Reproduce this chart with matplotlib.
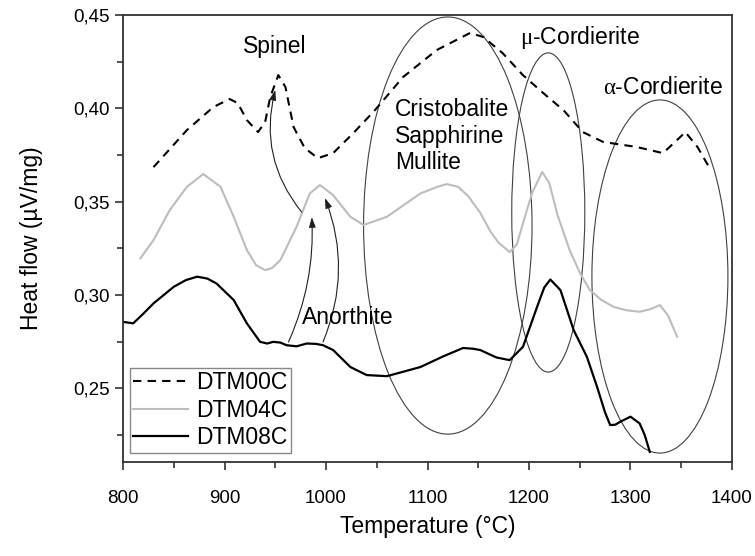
import numpy as np
import matplotlib
matplotlib.use("Agg")
import matplotlib.pyplot as plt
from matplotlib.patches import Ellipse
from matplotlib.ticker import MultipleLocator, FuncFormatter

plt.rcParams['font.family'] = ['Liberation Sans', 'DejaVu Sans']
plt.rcParams['mathtext.fontset'] = 'custom'
plt.rcParams['mathtext.rm'] = 'Liberation Serif'

# DTM00C (dashed)
t00 = [830, 863, 889, 905, 913, 922, 933, 940, 945, 953, 960, 968, 979, 992, 1007,
       1027, 1047, 1076, 1109, 1142, 1155, 1174, 1194, 1214, 1234, 1253, 1273, 1306,
       1332, 1349, 1354, 1366, 1378]
h00 = [0.3685, 0.3884, 0.4007, 0.4050, 0.4028, 0.3937, 0.3873, 0.3927, 0.4060, 0.4178,
       0.4114, 0.3900, 0.3787, 0.3733, 0.3760, 0.3868, 0.3983, 0.4168, 0.4312, 0.4404,
       0.4382, 0.4296, 0.4178, 0.4082, 0.3990, 0.3873, 0.3820, 0.3793, 0.3760, 0.3846,
       0.3873, 0.3793, 0.3680]

# DTM04C (light grey)
t04 = [817, 830, 846, 863, 879, 896, 909, 922, 931, 940, 947, 955, 971, 984, 994,
       1007, 1024, 1037, 1060, 1093, 1110, 1119, 1130, 1140, 1152, 1162, 1170, 1181,
       1188, 1196, 1203, 1213, 1220, 1228, 1240, 1250, 1260, 1271, 1283, 1296, 1309,
       1320, 1329, 1337, 1346]
h04 = [0.3196, 0.3294, 0.3455, 0.3580, 0.3648, 0.3580, 0.3419, 0.3241, 0.3160, 0.3133,
       0.3145, 0.3187, 0.3366, 0.3544, 0.3589, 0.3535, 0.3419, 0.3375, 0.3419, 0.3544,
       0.3580, 0.3594, 0.3580, 0.3530, 0.3440, 0.3340, 0.3280, 0.3230, 0.3270, 0.3420,
       0.3546, 0.3659, 0.3600, 0.3430, 0.3241, 0.3120, 0.3026, 0.2975, 0.2937, 0.2918,
       0.2910, 0.2925, 0.2946, 0.2890, 0.2776]

# DTM08C (black)
t08 = [800, 810, 820, 830, 850, 862, 873, 883, 892, 909, 922, 935, 942, 948, 955, 961,
       971, 981, 990, 997, 1007, 1024, 1040, 1060, 1093, 1115, 1135, 1145, 1152, 1168,
       1181, 1194, 1208, 1215, 1221, 1231, 1244, 1257, 1267, 1275, 1280, 1285, 1290,
       1300, 1309, 1314, 1319]
h08 = [0.2856, 0.2848, 0.2900, 0.2955, 0.3044, 0.3080, 0.3098, 0.3088, 0.3062, 0.2973,
       0.2848, 0.2749, 0.2740, 0.2749, 0.2745, 0.2731, 0.2725, 0.2740, 0.2738, 0.2731,
       0.2705, 0.2614, 0.2571, 0.2565, 0.2614, 0.2670, 0.2716, 0.2712, 0.2705, 0.2665,
       0.2651, 0.2722, 0.2937, 0.3040, 0.3083, 0.3026, 0.2812, 0.2669, 0.2509, 0.2370,
       0.2303, 0.2305, 0.2321, 0.2348, 0.2312, 0.2250, 0.2160]

# phase regions: (center T, center y, width, height)
ellipses = [(1120, 0.3372, 166, 0.2235),
            (1219, 0.3442, 72, 0.171),
            (1329, 0.3099, 134, 0.1892)]

# arrows: (tail, head, curvature)
arrows = [((976, 0.3444), (950, 0.4098), -0.25),
          ((963, 0.2748), (986, 0.3417), 0.12),
          ((997, 0.2748), (999, 0.3519), 0.2)]

fig = plt.figure(figsize=(7.55, 5.56), dpi=100)
ax = fig.add_axes([0.163, 0.169, 0.8065, 0.804])

ax.plot(t00, h00, color='black', lw=1.5, dashes=(4, 3), label='DTM00C')
ax.plot(t04, h04, color='#bdbdbd', lw=1.5, label='DTM04C')
ax.plot(t08, h08, color='black', lw=1.6, label='DTM08C')

for cx, cy, w, h in ellipses:
    ax.add_patch(Ellipse((cx, cy), w, h, fill=False, ec='#404040', lw=0.8))

for tail, head, rad in arrows:
    ax.annotate('', xy=head, xytext=tail,
                arrowprops=dict(arrowstyle='-|>,head_length=0.6,head_width=0.2',
                                color='#202020', lw=0.8,
                                connectionstyle=f'arc3,rad={rad}',
                                shrinkA=0, shrinkB=0))

fs = 16.5
ax.text(949, 0.4329, 'Spinel', fontsize=fs, ha='center', va='center')
ax.text(976, 0.2882, 'Anorthite', fontsize=fs, ha='left', va='center')
ax.text(1068, 0.4055, 'Cristobalite\nSapphirine\nMullite', fontsize=fs,
        ha='left', va='top', linespacing=1.2)
ax.text(1191, 0.4382, r'$\mathrm{\mu}$-Cordierite', fontsize=fs, ha='left', va='center')
ax.text(1273, 0.4109, r'$\mathrm{\alpha}$-Cordierite', fontsize=fs, ha='left', va='center')

ax.set_xlim(800, 1400)
ax.set_ylim(0.2105, 0.45)
ax.xaxis.set_major_locator(MultipleLocator(100))
ax.xaxis.set_minor_locator(MultipleLocator(50))
ax.yaxis.set_major_locator(MultipleLocator(0.05))
ax.yaxis.set_minor_locator(MultipleLocator(0.025))
ax.yaxis.set_major_formatter(FuncFormatter(lambda v, p: f'{v:.2f}'.replace('.', ',')))
ax.tick_params(which='both', direction='out', width=1.2, colors='#333333',
               labelcolor='black', labelsize=13.5)
ax.tick_params(which='major', length=6)
ax.tick_params(which='minor', length=4)
ax.tick_params(axis='x', pad=14)
for s in ax.spines.values():
    s.set_linewidth(1.3)
    s.set_color('#333333')

ax.set_xlabel('Temperature (°C)', fontsize=16.5, labelpad=6)
ax.set_ylabel('Heat flow (µV/mg)', fontsize=16.5, labelpad=22)

leg = ax.legend(loc='lower left', bbox_to_anchor=(0.0, 0.005), fontsize=16.5,
                handlelength=2.4, handletextpad=0.35, labelspacing=0.2,
                borderpad=0.15, borderaxespad=0.3, fancybox=False, framealpha=1)
leg.get_frame().set_edgecolor('#888888')
leg.get_frame().set_linewidth(1.0)

fig.savefig('out.png', dpi=100)
